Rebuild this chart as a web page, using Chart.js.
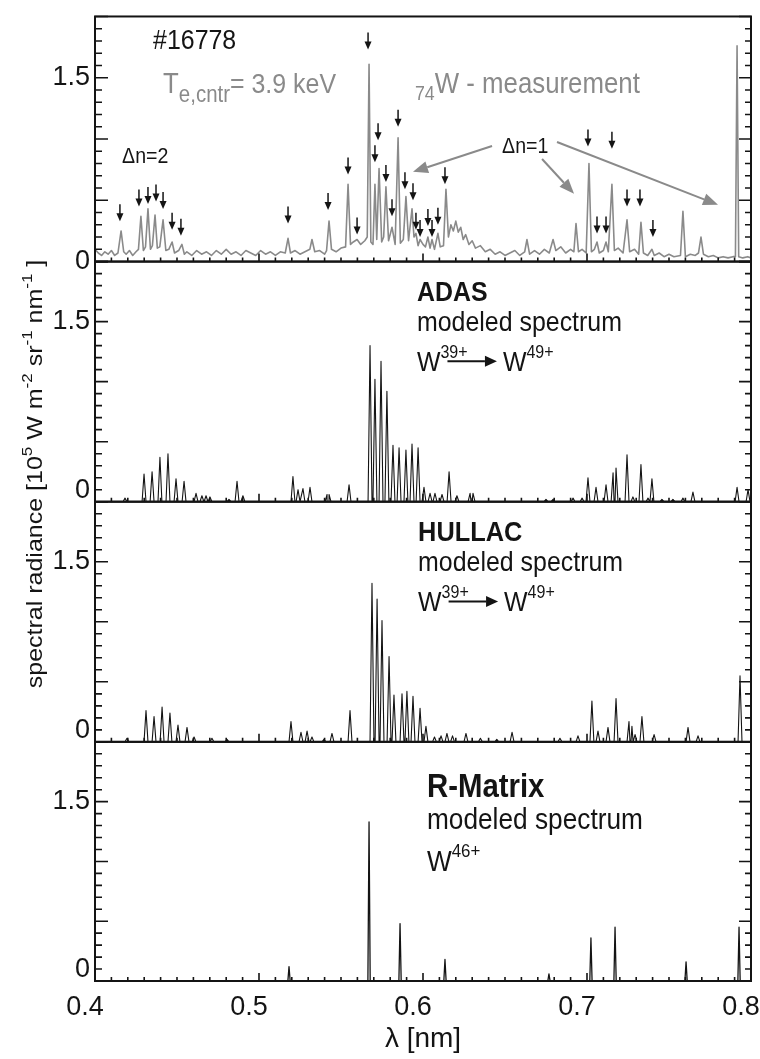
<!DOCTYPE html>
<html>
<head>
<meta charset="utf-8">
<title>W spectra 0.4-0.8 nm</title>
<script src="https://cdn.jsdelivr.net/npm/chart.js@4.4.1/dist/chart.umd.min.js"></script>
<style>
  html, body { margin: 0; padding: 0; background: #fff; }
  #wrap { width: 760px; height: 1059px; }
</style>
</head>
<body>
<div id="wrap"><canvas id="spec" width="760" height="1059"></canvas></div>
<script>
// Measured spectrum, shot #16778: [wavelength nm, radiance 1e5 W m^-2 sr^-1 nm^-1]
const measured = [
  [0.400,0.10],[0.402,0.07],[0.404,0.05],[0.406,0.08],[0.408,0.06],[0.410,0.09],[0.412,0.05],[0.414,0.07],
  [0.4159,0.25],[0.4175,0.08],[0.419,0.06],[0.421,0.09],[0.423,0.05],[0.425,0.08],[0.4265,0.10],
  [0.4280,0.37],[0.4295,0.09],[0.4308,0.12],[0.4323,0.43],[0.4338,0.10],[0.4350,0.13],[0.4366,0.38],
  [0.4380,0.11],[0.4395,0.12],[0.4415,0.34],[0.4432,0.09],[0.4450,0.10],[0.4470,0.16],[0.4485,0.07],
  [0.4510,0.09],[0.4530,0.14],[0.4545,0.06],[0.456,0.08],[0.459,0.05],[0.462,0.09],[0.465,0.06],
  [0.468,0.08],[0.471,0.05],[0.474,0.09],[0.477,0.06],[0.480,0.10],[0.483,0.06],[0.486,0.08],
  [0.489,0.05],[0.492,0.09],[0.495,0.07],[0.498,0.05],[0.501,0.09],[0.504,0.06],[0.507,0.08],
  [0.510,0.05],[0.513,0.08],[0.5160,0.07],[0.5177,0.19],[0.5192,0.07],[0.522,0.09],[0.525,0.06],
  [0.528,0.08],[0.531,0.10],[0.5323,0.18],[0.5340,0.08],[0.537,0.09],[0.540,0.06],[0.5412,0.09],
  [0.5427,0.33],[0.5442,0.10],[0.547,0.08],[0.550,0.11],[0.5528,0.12],[0.5543,0.63],[0.5558,0.14],
  [0.5575,0.16],[0.5598,0.18],[0.5620,0.14],[0.5645,0.17],[0.5660,0.20],[0.5671,1.61],[0.5682,0.16],
  [0.5695,0.14],[0.5707,0.63],[0.5718,0.18],[0.5732,0.76],[0.5748,0.16],[0.5760,0.20],[0.5774,0.61],
  [0.5790,0.17],[0.5811,0.28],[0.5830,0.14],[0.5848,1.01],[0.5862,0.15],[0.5880,0.18],[0.5896,0.53],
  [0.5912,0.17],[0.5933,0.43],[0.5945,0.20],[0.5957,0.23],[0.5970,0.13],[0.5982,0.18],[0.6000,0.14],
  [0.6015,0.12],[0.6030,0.20],[0.6043,0.11],[0.6055,0.18],[0.6070,0.10],[0.6091,0.23],[0.6105,0.12],
  [0.6125,0.13],[0.6140,0.59],[0.6155,0.20],[0.6170,0.30],[0.6185,0.25],[0.6200,0.33],[0.6215,0.24],
  [0.6230,0.28],[0.6245,0.18],[0.6260,0.22],[0.628,0.14],[0.630,0.17],[0.632,0.11],[0.635,0.13],
  [0.638,0.08],[0.641,0.10],[0.644,0.06],[0.647,0.08],[0.650,0.05],[0.653,0.07],[0.656,0.09],
  [0.659,0.05],[0.6620,0.08],[0.6634,0.18],[0.6650,0.06],[0.668,0.09],[0.671,0.06],[0.674,0.10],
  [0.677,0.07],[0.6793,0.18],[0.681,0.09],[0.684,0.12],[0.687,0.07],[0.690,0.10],[0.6920,0.08],
  [0.6933,0.31],[0.6948,0.08],[0.697,0.10],[0.6995,0.07],[0.7012,0.80],[0.7027,0.08],[0.7045,0.10],
  [0.7061,0.16],[0.7075,0.07],[0.7100,0.09],[0.7116,0.16],[0.7130,0.08],[0.7152,0.63],[0.7167,0.09],
  [0.719,0.11],[0.722,0.07],[0.7244,0.34],[0.7260,0.08],[0.729,0.10],[0.7315,0.06],[0.7329,0.32],
  [0.7344,0.07],[0.737,0.05],[0.7396,0.10],[0.7410,0.05],[0.744,0.07],[0.747,0.04],[0.750,0.06],
  [0.753,0.04],[0.7570,0.05],[0.7585,0.41],[0.7600,0.04],[0.763,0.06],[0.766,0.05],[0.7680,0.07],
  [0.7695,0.20],[0.7710,0.06],[0.774,0.04],[0.777,0.05],[0.780,0.03],[0.783,0.04],[0.786,0.03],
  [0.789,0.04],[0.7905,0.04],[0.7915,1.76],[0.7925,0.04],[0.795,0.03],[0.798,0.04],[0.800,0.03]
];

// identified lines in the measurement: wavelength and arrow tip height
const markLambda = [0.4152,0.4268,0.4323,0.4372,0.4415,0.4470,0.4524,
  0.5177,0.5421,0.5543,0.5598,0.5665,0.5707,0.5726,0.5774,0.5811,0.5848,0.5890,
  0.5939,0.5957,0.5982,0.6030,0.6055,0.6091,0.6134,
  0.7006,0.7152,0.7061,0.7116,0.7244,0.7323,0.7402];
const markTip = [0.33,0.45,0.47,0.49,0.43,0.26,0.21,
  0.31,0.42,0.71,0.22,1.73,0.81,0.99,0.65,0.37,1.10,0.59,
  0.50,0.26,0.20,0.29,0.20,0.30,0.63,
  0.94,0.92,0.23,0.23,0.45,0.45,0.20];

// ADAS model, W39+ .. W49+ : line positions and peak radiance
const adasLambda = [0.4183,0.4299,0.4348,0.4396,0.4445,0.4494,0.4543,0.4616,0.4652,0.4677,0.4701,0.4817,
  0.4866,0.4902,0.5207,0.5238,0.5268,0.5311,0.5415,0.5427,0.5549,0.5677,0.5707,0.5744,0.5780,0.5817,
  0.5854,0.5896,0.5933,0.5970,0.6006,0.6043,0.6073,0.6116,0.6159,0.6207,0.6287,0.6305,0.6750,0.6793,
  0.6915,0.6970,0.7006,0.7055,0.7116,0.7159,0.7177,0.7244,0.7280,0.7329,0.7372,0.7396,0.7457,0.7524,
  0.7585,0.7646,0.7915,0.7982];
const adasPeak = [0.03,0.23,0.25,0.37,0.40,0.19,0.17,0.07,0.05,0.05,0.04,0.02,
  0.17,0.05,0.21,0.10,0.11,0.12,0.06,0.06,0.14,1.30,1.02,1.17,0.92,0.47,
  0.45,0.43,0.48,0.45,0.12,0.07,0.07,0.06,0.25,0.05,0.07,0.07,0.02,0.02,
  0.03,0.03,0.20,0.12,0.14,0.24,0.28,0.39,0.04,0.31,0.03,0.19,0.02,0.02,
  0.03,0.08,0.12,0.10];

// HULLAC model, W39+ .. W49+
const hullacLambda = [0.4195,0.4311,0.4360,0.4409,0.4457,0.4506,0.4561,0.4604,0.4713,0.4805,
  0.5195,0.5256,0.5293,0.5323,0.5396,0.5445,0.5555,0.5689,0.5720,0.5750,0.5793,0.5823,0.5872,
  0.5902,0.5939,0.5982,0.6018,0.6070,0.6110,0.6146,0.6180,0.6262,0.6350,0.6450,0.6543,0.6835,
  0.6945,0.7030,0.7067,0.7128,0.7177,0.7256,0.7274,0.7293,0.7335,0.7409,0.7616,0.7677,0.7933];
const hullacPeak = [0.03,0.26,0.21,0.29,0.24,0.14,0.12,0.04,0.03,0.02,
  0.17,0.08,0.09,0.04,0.02,0.07,0.26,1.32,1.19,1.01,0.71,0.39,0.40,
  0.42,0.38,0.28,0.13,0.04,0.05,0.07,0.05,0.07,0.03,0.02,0.08,0.03,
  0.05,0.34,0.09,0.12,0.36,0.17,0.13,0.06,0.21,0.06,0.12,0.05,0.55];

// R-Matrix model, W46+ only
const rmatrixLambda = [0.5183,0.5671,0.5860,0.6134,0.6768,0.7024,0.7171,0.7604,0.7927];
const rmatrixPeak = [0.12,1.33,0.48,0.18,0.06,0.36,0.45,0.16,0.45];

// axis ranges and labelled ticks
const lambdaRange = [0.4, 0.8];
const radianceRange = [0, 2];
const radianceLabels = [0, 1.5];

const TICK_FONT = "'Liberation Sans', Arial, Helvetica, sans-serif";
const TEXT_FONT = "'Liberation Sans', Arial, Helvetica, sans-serif";
const SX = 0.89;            // text is drawn a little condensed
const INK = '#141414';
const GREY = '#8a8a8a';

const near = (a, b) => Math.abs(a - b) < 1e-6;
const onStep = (v, step) => near(v / step, Math.round(v / step));

// sharp line profile: each line is a narrow triangle on a zero baseline
function lineProfile(lams, peaks, hw) {
  const pts = [{ x: lambdaRange[0], y: 0 }, { x: lambdaRange[1], y: 0 }];
  lams.forEach((l, i) => {
    pts.push({ x: l - hw, y: 0 }, { x: l, y: peaks[i] }, { x: l + hw, y: 0 });
  });
  return pts.sort((a, b) => a.x - b.x);
}

function panelAxis(weight, liftZero) {
  return {
    type: 'linear', position: 'left', stack: 'panels', stackWeight: weight,
    min: radianceRange[0], max: radianceRange[1],
    grid: { display: false, drawTicks: false },
    border: { display: false },
    ticks: {
      stepSize: 0.1, autoSkip: false, padding: 5, color: INK,
      font: { family: TICK_FONT, size: 27, lineHeight: 0.85 },
      callback: v => {
        const hit = radianceLabels.find(r => near(v, r));
        if (hit === undefined) return '';
        // the zero label of the model panels sits a little above the axis
        return (hit === 0 && liftZero) ? ['0', ''] : String(hit);
      }
    },
    afterFit: s => { s.width = 95; }
  };
}

// text helpers
function hText(ctx, str, x, y, size, opt = {}) {
  ctx.save();
  ctx.font = `${opt.bold ? 'bold ' : ''}${size}px ${TEXT_FONT}`;
  ctx.fillStyle = opt.color || INK;
  ctx.textAlign = 'left';
  ctx.textBaseline = 'alphabetic';
  ctx.translate(x, y);
  ctx.scale(SX, 1);
  ctx.fillText(str, 0, 0);
  const w = ctx.measureText(str).width * SX;
  ctx.restore();
  return w;
}

function arrow(ctx, x1, y1, x2, y2, color, lw, head, half) {
  const a = Math.atan2(y2 - y1, x2 - x1);
  const bx = x2 - head * Math.cos(a), by = y2 - head * Math.sin(a);
  ctx.save();
  ctx.strokeStyle = color; ctx.fillStyle = color; ctx.lineWidth = lw;
  ctx.beginPath(); ctx.moveTo(x1, y1); ctx.lineTo(bx, by); ctx.stroke();
  ctx.beginPath();
  ctx.moveTo(x2, y2);
  ctx.lineTo(bx + half * Math.sin(a), by - half * Math.cos(a));
  ctx.lineTo(bx - half * Math.sin(a), by + half * Math.cos(a));
  ctx.closePath(); ctx.fill();
  ctx.restore();
}

function ionLabel(ctx, x, y, from, to, size, sup) {
  const w = hText(ctx, 'W', x, y, size);
  hText(ctx, from, x + w, y - size * 0.48, sup);
  if (!to) return;
  const ay = y - size * 0.36;
  arrow(ctx, x + w + 7, ay, x + 80, ay, INK, 2, 12, 5.5);
  const w2 = hText(ctx, 'W', x + 86, y, size);
  hText(ctx, to, x + 86 + w2, y - size * 0.48, sup);
}

function modelCaption(ctx, xs, ys, lam, v, name, ion, size, titleSize) {
  const x = xs.getPixelForValue(lam);
  const y = ys.getPixelForValue(v);
  hText(ctx, name, x, y, titleSize, { bold: true });
  hText(ctx, 'modeled spectrum', x, y + size + 2, size);
  ionLabel(ctx, x, y + size * 2.5, ion[0], ion[1], size, Math.round(size * 0.66));
}

const PANELS = ['meas', 'adas', 'hullac', 'rmatrix'];

const decor = {
  id: 'decor',
  afterDatasetsDraw(chart) {
    const { ctx, chartArea: ca, scales } = chart;
    const xs = scales.x;
    ctx.save();
    ctx.strokeStyle = INK;
    ctx.lineCap = 'butt';
    for (const id of PANELS) {
      const ys = scales[id];
      // inward ticks on both vertical axes
      ctx.lineWidth = 1.6;
      ctx.beginPath();
      ys.ticks.forEach(t => {
        const py = ys.getPixelForValue(t.value);
        const major = onStep(t.value, 0.5);
        ctx.moveTo(ca.left, py); ctx.lineTo(ca.left + (major ? 13 : 7), py);
        ctx.moveTo(ca.right, py); ctx.lineTo(ca.right - (major ? 12 : 6), py);
      });
      // wavelength ticks along the bottom of every panel
      xs.ticks.forEach(t => {
        const px = xs.getPixelForValue(t.value);
        ctx.moveTo(px, ys.bottom); ctx.lineTo(px, ys.bottom - (onStep(t.value, 0.1) ? 8 : 4));
      });
      ctx.stroke();
      ctx.lineWidth = 2;
      ctx.strokeRect(ca.left, ys.top, ca.right - ca.left, ys.bottom - ys.top);
    }
    ctx.restore();

    // line identification arrows in the measurement
    const ym = scales.meas;
    ctx.save();
    ctx.strokeStyle = INK; ctx.fillStyle = INK; ctx.lineWidth = 1.5;
    markLambda.forEach((l, i) => {
      const px = xs.getPixelForValue(l), py = ym.getPixelForValue(markTip[i]);
      ctx.beginPath(); ctx.moveTo(px, py - 17); ctx.lineTo(px, py - 6); ctx.stroke();
      ctx.beginPath(); ctx.moveTo(px - 3.5, py - 8); ctx.lineTo(px + 3.5, py - 8); ctx.lineTo(px, py);
      ctx.closePath(); ctx.fill();
    });
    ctx.restore();

    // measurement annotations
    const P = (lam, v) => [xs.getPixelForValue(lam), ym.getPixelForValue(v)];
    let [x, y] = P(0.4354, 1.732);
    hText(ctx, '#16778', x, y, 28);
    [x, y] = P(0.4415, 1.374);
    let w = hText(ctx, 'T', x, y, 29, { color: GREY });
    w += hText(ctx, 'e,cntr', x + w, y + 9, 23, { color: GREY });
    hText(ctx, '= 3.9 keV', x + w, y, 28, { color: GREY });
    [x, y] = P(0.5951, 1.374);
    w = hText(ctx, '74', x, y + 7, 20, { color: GREY });
    hText(ctx, 'W - measurement', x + w, y, 29, { color: GREY });
    [x, y] = P(0.4165, 0.805);
    hText(ctx, '\u0394n=2', x, y, 22);
    [x, y] = P(0.6482, 0.886);
    hText(ctx, '\u0394n=1', x, y, 22);
    const pointers = [[0.6421, 0.943, 0.5939, 0.732], [0.6726, 0.837, 0.6921, 0.553], [0.6817, 0.976, 0.7799, 0.463]];
    pointers.forEach(([l1, v1, l2, v2]) => {
      const [a, b] = P(l1, v1), [c, d] = P(l2, v2);
      arrow(ctx, a, b, c, d, GREY, 2, 15, 6);
    });

    // model captions
    modelCaption(ctx, xs, scales.adas, 0.5963, 1.669, 'ADAS', ['39+', '49+'], 28, 28);
    modelCaption(ctx, xs, scales.hullac, 0.5970, 1.669, 'HULLAC', ['39+', '49+'], 28, 28.5);
    modelCaption(ctx, xs, scales.rmatrix, 0.6024, 1.537, 'R-Matrix', ['46+', null], 29.5, 33);

    // vertical axis title with superscripts
    const parts = [['spectral radiance [10', 0], ['5', 1], [' W m', 0], ['-2', 1], [' sr', 0], ['-1', 1],
      [' nm', 0], ['-1', 1], [' ]', 0]];
    ctx.save();
    ctx.fillStyle = INK;
    ctx.textBaseline = 'alphabetic';
    ctx.translate(42, 474);
    ctx.rotate(-Math.PI / 2);
    ctx.scale(1, SX);
    const fonts = [`25px ${TEXT_FONT}`, `17px ${TEXT_FONT}`];
    let total = 0;
    parts.forEach(([s, sup]) => { ctx.font = fonts[sup]; total += ctx.measureText(s).width; });
    let cx = -total / 2;
    parts.forEach(([s, sup]) => {
      ctx.font = fonts[sup];
      ctx.fillText(s, cx, sup ? -11 : 0);
      cx += ctx.measureText(s).width;
    });
    ctx.restore();
  }
};

new Chart(document.getElementById('spec'), {
  type: 'line',
  data: {
    datasets: [
      { label: 'measurement', data: measured.map(([x, y]) => ({ x, y })), yAxisID: 'meas',
        borderColor: GREY, borderWidth: 1.6, pointRadius: 0, tension: 0, borderJoinStyle: 'round' },
      { label: 'ADAS', data: lineProfile(adasLambda, adasPeak, 0.0012), yAxisID: 'adas',
        borderColor: INK, borderWidth: 1.1, pointRadius: 0, tension: 0, borderJoinStyle: 'round' },
      { label: 'HULLAC', data: lineProfile(hullacLambda, hullacPeak, 0.0012), yAxisID: 'hullac',
        borderColor: INK, borderWidth: 1.1, pointRadius: 0, tension: 0, borderJoinStyle: 'round' },
      { label: 'R-Matrix', data: lineProfile(rmatrixLambda, rmatrixPeak, 0.0007), yAxisID: 'rmatrix',
        borderColor: INK, borderWidth: 1.3, pointRadius: 0, tension: 0, borderJoinStyle: 'round' }
    ]
  },
  options: {
    responsive: false, animation: false, devicePixelRatio: 1, events: [],
    layout: { padding: { top: 8, right: 9, left: 0, bottom: 0 } },
    plugins: { legend: { display: false }, tooltip: { enabled: false } },
    scales: {
      x: {
        type: 'linear', position: 'bottom', min: lambdaRange[0], max: lambdaRange[1],
        grid: { display: false, drawTicks: false },
        border: { display: false },
        ticks: {
          stepSize: 0.01, autoSkip: false, maxRotation: 0, padding: 10, labelOffset: -10, color: INK,
          font: { family: TICK_FONT, size: 27 },
          callback: v => onStep(v, 0.1) ? v.toFixed(1) : ''
        },
        title: { display: true, text: '\u03bb [nm]', color: INK, font: { family: TICK_FONT, size: 28 },
          padding: { top: 0, bottom: 3 } },
        afterFit: s => { s.height = 78; s.paddingLeft = 0; s.paddingRight = 0; }
      },
      // the last declared panel ends up on top of the stack
      rmatrix: panelAxis(241, true),
      hullac: panelAxis(242, true),
      adas: panelAxis(242, true),
      meas: panelAxis(247, false)
    }
  },
  plugins: [decor]
});
</script>
</body>
</html>
